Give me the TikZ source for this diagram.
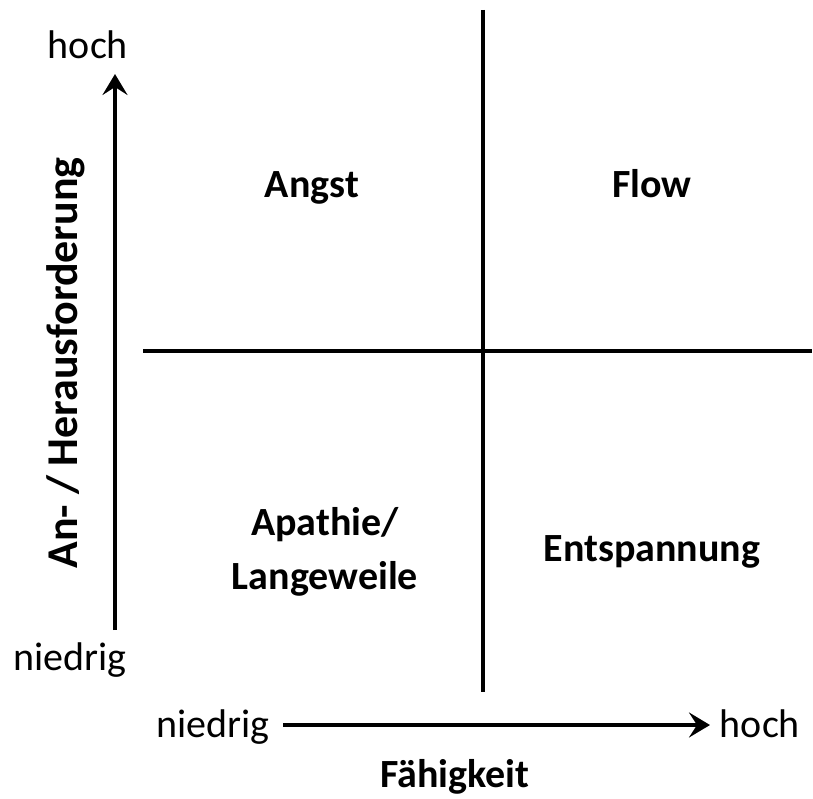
\documentclass[tikz,border=0pt]{standalone}
\usepackage{fontspec}
\setmainfont{Carlito}
\usetikzlibrary{arrows.meta,positioning}
\tikzstyle{label} = [font=\fontsize{40}{46}\selectfont, inner sep=0pt]
\tikzstyle{field} = [font=\fontsize{40}{54}\selectfont\bfseries, inner sep=0pt, align=center]
\tikzstyle{axis} = [line width=4pt, -{Stealth[length=21pt, width=25pt, inset=8pt]}]
\tikzstyle{divider} = [line width=4pt]

\begin{document}
\begin{tikzpicture}[x=1pt, y=-1pt]
    \useasboundingbox (0,0) rectangle (813,799);
    % Quadrant borders
    \coordinate (vtop) at (483,10);
    \coordinate (vbot) at (483,692);
    \coordinate (hleft) at (143,351);
    \coordinate (hright) at (812,351);
    \draw [divider] (vtop) -- (vbot);
    \draw [divider] (hleft) -- (hright);

    % Axes
    \coordinate (ystart) at (115,630);
    \coordinate (yend) at (115,74);
    \coordinate (xstart) at (283,725);
    \coordinate (xend) at (710,725);
    \draw [axis] (ystart) -- (yend);
    \draw [axis] (xstart) -- (xend);

    % Axis texts
    \node [label] (yhigh) at (88,45) {hoch};
    \node [label] (ylow) at (70,660) {niedrig};
    \node [label, anchor=base] (xlow) at (213,737) {niedrig};
    \node [label, anchor=base] (xhigh) at (760,737) {hoch};
    \node [field] (xtitle) at (455,777) {Fähigkeit};
    \node [field, font=\fontsize{44}{50}\selectfont\bfseries, rotate=90] (ytitle) at (66,363) {An- / Herausforderung};

    % Quadrants
    \node [field, anchor=base] (angst) at (312,198) {Angst};
    \node [field, anchor=base] (flow) at (652,198) {Flow};
    \node [field] (apathie) at (325,552) {Apathie/\\Langeweile};
    \node [field] (entspannung) at (652,552) {Entspannung};
\end{tikzpicture}
\end{document}
